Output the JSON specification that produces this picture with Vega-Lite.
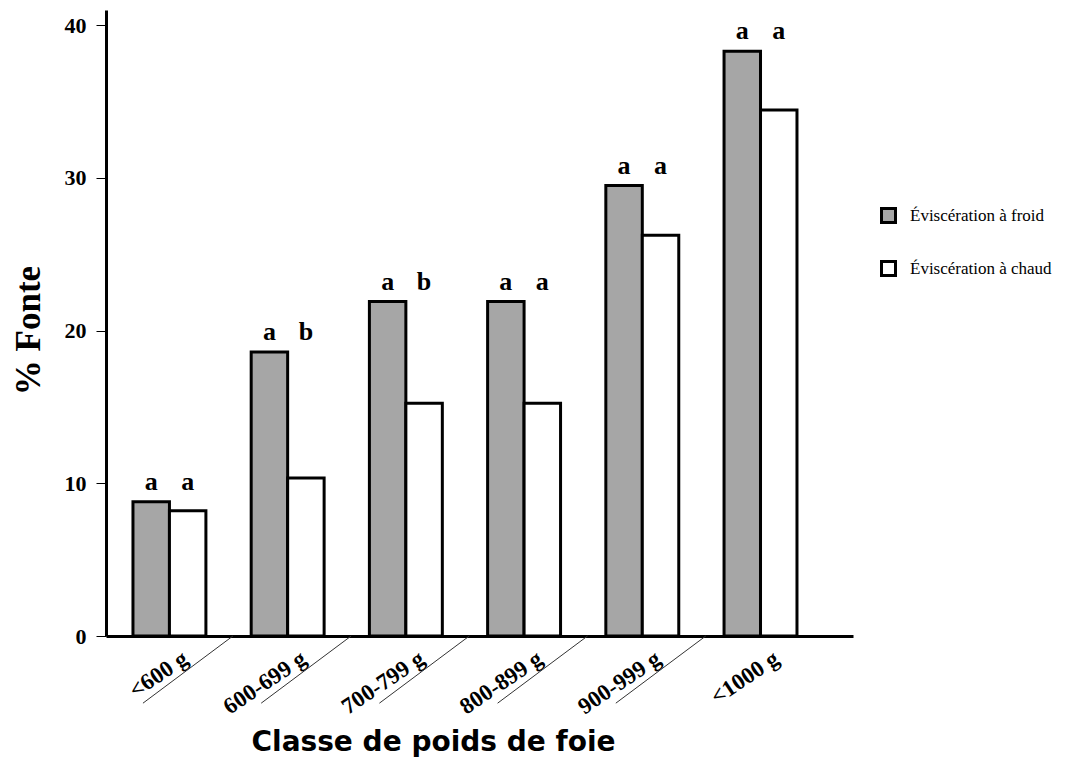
{
  "$schema": "https://vega.github.io/schema/vega-lite/v6.json",
  "width": 747,
  "height": 626,
  "autosize": "none",
  "padding": {"left": 106, "top": 10, "right": 223, "bottom": 124},
  "background": "white",
  "config": {"view": {"stroke": null}},
  "data": {"values": [
    {"classe": "<600 g", "serie": "Éviscération  à froid", "fonte": 8.8, "lettre": "a"},
    {"classe": "<600 g", "serie": "Éviscération  à chaud", "fonte": 8.2, "lettre": "a"},
    {"classe": "600-699  g", "serie": "Éviscération  à froid", "fonte": 18.6, "lettre": "a"},
    {"classe": "600-699  g", "serie": "Éviscération  à chaud", "fonte": 10.35, "lettre": "b"},
    {"classe": "700-799 g", "serie": "Éviscération  à froid", "fonte": 21.9, "lettre": "a"},
    {"classe": "700-799 g", "serie": "Éviscération  à chaud", "fonte": 15.25, "lettre": "b"},
    {"classe": "800-899 g", "serie": "Éviscération  à froid", "fonte": 21.9, "lettre": "a"},
    {"classe": "800-899 g", "serie": "Éviscération  à chaud", "fonte": 15.25, "lettre": "a"},
    {"classe": "900-999 g", "serie": "Éviscération  à froid", "fonte": 29.5, "lettre": "a"},
    {"classe": "900-999 g", "serie": "Éviscération  à chaud", "fonte": 26.25, "lettre": "a"},
    {"classe": "<1000 g", "serie": "Éviscération  à froid", "fonte": 38.3, "lettre": "a"},
    {"classe": "<1000 g", "serie": "Éviscération  à chaud", "fonte": 34.45, "lettre": "a"}
  ]},
  "transform": [
    {"joinaggregate": [{"op": "max", "field": "fonte", "as": "haut"}], "groupby": ["classe"]}
  ],
  "layer": [
    {
      "mark": {"type": "bar", "stroke": "black", "strokeWidth": 3, "strokeJoin": "miter"},
      "encoding": {
        "x": {
          "field": "classe", "type": "nominal",
          "sort": ["<600 g", "600-699  g", "700-799 g", "800-899 g", "900-999 g", "<1000 g"],
          "scale": {"paddingInner": 0.383, "paddingOuter": 0.351, "align": 0.325},
          "axis": {
            "title": "Classe de poids de foie",
            "titleFont": "DejaVu Sans", "titleFontWeight": "bold", "titleFontSize": 28, "titleColor": "black",
            "titleX": 327, "titleY": 114, "titleAlign": "center", "titleBaseline": "alphabetic", "titleAnchor": null,
            "labelAngle": -34, "labelAlign": "right", "labelBaseline": "top",
            "labelOffset": 10, "labelPadding": 11,
            "labelFont": "Liberation Serif", "labelFontWeight": "bold", "labelFontSize": 23, "labelColor": "black",
            "ticks": false, "grid": false,
            "domainColor": "black", "domainWidth": 3
          }
        },
        "xOffset": {
          "field": "serie", "type": "nominal",
          "sort": ["Éviscération  à froid", "Éviscération  à chaud"],
          "scale": {"paddingInner": 0, "paddingOuter": 0}
        },
        "y": {
          "field": "fonte", "type": "quantitative",
          "scale": {"domain": [0, 41], "nice": false},
          "axis": {
            "title": "% Fonte",
            "titleFont": "Liberation Serif", "titleFontWeight": "bold", "titleFontSize": 35, "titleColor": "black",
            "titleX": -78, "titleY": 320, "titleAngle": -90, "titleAlign": "center", "titleBaseline": "middle",
            "values": [0, 10, 20, 30, 40],
            "labelFont": "Liberation Serif", "labelFontWeight": "bold", "labelFontSize": 22, "labelColor": "black",
            "labelPadding": 10,
            "tickColor": "black", "tickSize": 10, "tickWidth": 1,
            "grid": false,
            "domainColor": "black", "domainWidth": 3
          }
        },
        "fill": {
          "field": "serie", "type": "nominal",
          "sort": ["Éviscération  à froid", "Éviscération  à chaud"],
          "scale": {"domain": ["Éviscération  à froid", "Éviscération  à chaud"], "range": ["#a6a6a6", "white"]},
          "legend": {
            "title": null, "orient": "none", "legendX": 774, "legendY": 197,
            "padding": 0, "symbolType": "square", "symbolSize": 196,
            "symbolStrokeColor": "black", "symbolStrokeWidth": 3,
            "labelFont": "Liberation Serif", "labelFontSize": 17, "labelColor": "black",
            "labelOffset": 13, "rowPadding": 26
          }
        }
      }
    },
    {
      "mark": {"type": "text", "baseline": "alphabetic", "dy": -12, "font": "Liberation Serif", "fontWeight": "bold", "fontSize": 26, "color": "black"},
      "encoding": {
        "x": {"field": "classe", "type": "nominal", "sort": ["<600 g", "600-699  g", "700-799 g", "800-899 g", "900-999 g", "<1000 g"]},
        "xOffset": {"field": "serie", "type": "nominal", "sort": ["Éviscération  à froid", "Éviscération  à chaud"]},
        "y": {"field": "haut", "type": "quantitative", "title": "% Fonte"},
        "text": {"field": "lettre"}
      }
    },
    {
      "transform": [
        {"filter": "datum.serie === 'Éviscération  à froid' && datum.classe !== '<1000 g'"}
      ],
      "mark": {"type": "rule", "stroke": "#333333", "strokeWidth": 1},
      "encoding": {
        "x": {"field": "classe", "type": "nominal", "bandPosition": 1.37, "sort": ["<600 g", "600-699  g", "700-799 g", "800-899 g", "900-999 g", "<1000 g"]},
        "x2": {"field": "classe", "bandPosition": 0.137},
        "y": {"datum": 0, "type": "quantitative", "title": "% Fonte"},
        "y2": {"datum": -4.4}
      }
    }
  ]
}
